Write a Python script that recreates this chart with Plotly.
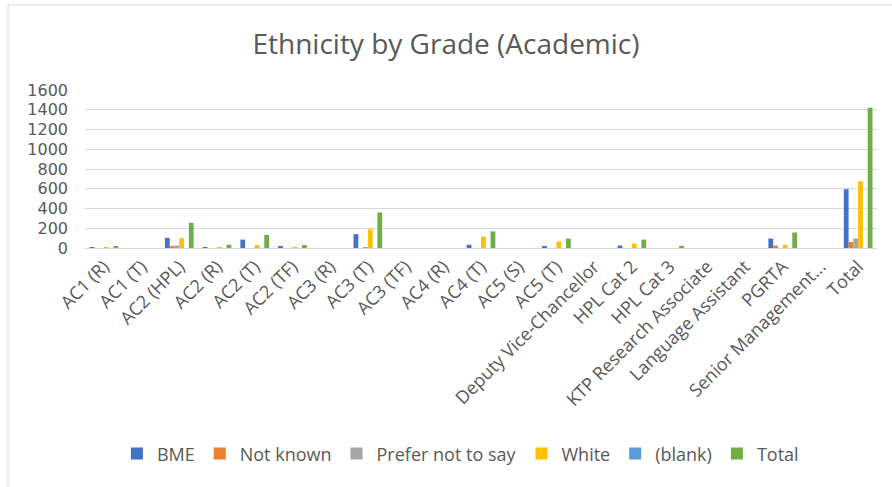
import plotly.graph_objects as go

grades = ["AC1 (R)", "AC1 (T)", "AC2 (HPL)", "AC2 (R)", "AC2 (T)", "AC2 (TF)",
          "AC3 (R)", "AC3 (T)", "AC3 (TF)", "AC4 (R)", "AC4 (T)", "AC5 (S)",
          "AC5 (T)", "Deputy Vice-Chancellor", "HPL Cat 2", "HPL Cat 3",
          "KTP Research Associate", "Language Assistant", "PGRTA",
          "Senior Management...", "Total"]

bme = [10, 0, 103, 10, 85, 12, 0, 140, 0, 0, 33, 0, 12, 0, 25, 0, 0, 0, 96, 0, 595]
not_known = [0, 0, 12, 0, 0, 0, 0, 0, 0, 0, 0, 0, 0, 0, 0, 0, 0, 0, 25, 0, 60]
prefer_not = [0, 0, 25, 0, 0, 0, 0, 5, 0, 0, 0, 0, 0, 0, 0, 0, 0, 0, 0, 0, 97]
white = [5, 0, 100, 5, 30, 8, 0, 190, 0, 0, 115, 0, 65, 0, 45, 0, 0, 0, 33, 0, 675]
blank = [0] * len(grades)
total = [20, 0, 255, 33, 133, 30, 0, 360, 0, 0, 168, 0, 95, 0, 85, 22, 0, 0, 157, 0, 1420]

series = [
    ("BME", bme, "#4472C4"),
    ("Not known", not_known, "#ED7D31"),
    ("Prefer not to say", prefer_not, "#A5A5A5"),
    ("White", white, "#FFC000"),
    ("(blank)", blank, "#5B9BD5"),
    ("Total", total, "#70AD47"),
]

font_family = "Open Sans, Liberation Sans, sans-serif"
text_grey = "#595959"
frame_grey = "#D9D9D9"

fig = go.Figure()
for name, vals, color in series:
    fig.add_trace(go.Bar(x=grades, y=vals, name=name,
                         marker=dict(color=color, line=dict(width=0))))

fig.update_layout(
    width=892, height=487,
    paper_bgcolor="white", plot_bgcolor="white",
    margin=dict(l=85, r=15, t=90, b=239),
    barmode="group", bargap=0.24, bargroupgap=0,
    title=dict(text="Ethnicity by Grade (Academic)", x=0.5, xanchor="center",
               y=0.91, yanchor="middle",
               font=dict(family=font_family, size=28, color=text_grey)),
    font=dict(family=font_family, color=text_grey),
    legend=dict(orientation="h", x=0.474, xanchor="center", y=0.03, yref="container",
                yanchor="bottom", font=dict(size=18, color=text_grey),
                itemwidth=30, tracegroupgap=0),
    showlegend=True,
)

fig.update_yaxes(range=[0, 1600], dtick=200, showgrid=True, gridcolor=frame_grey,
                 gridwidth=1, zeroline=False, showline=False, ticks="",
                 tickfont=dict(family="DejaVu Sans", size=16, color=text_grey),
                 ticklabelstandoff=16)
fig.update_xaxes(tickangle=-45, showline=True, linecolor=frame_grey, linewidth=1,
                 ticks="", tickfont=dict(size=18, color=text_grey))

# thin frame on the left and top edges of the chart area
fig.add_shape(type="line", xref="paper", yref="paper", x0=-0.0972, x1=-0.0972,
              y0=-1.6, y1=1.538, line=dict(color=frame_grey, width=1))
fig.add_shape(type="line", xref="paper", yref="paper", x0=-0.0972, x1=1.05,
              y0=1.538, y1=1.538, line=dict(color=frame_grey, width=1))

fig.write_html("out.html")
